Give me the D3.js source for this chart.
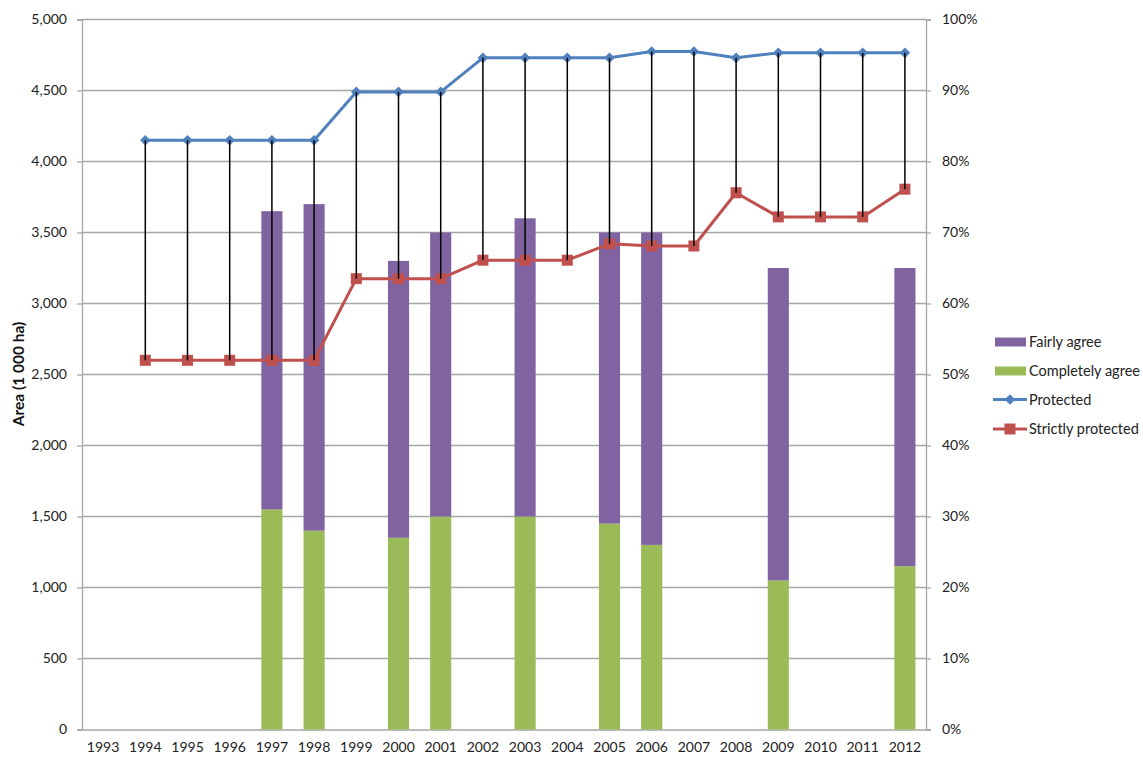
<!DOCTYPE html>
<html>
<head>
<meta charset="utf-8">
<script src="https://cdn.jsdelivr.net/npm/d3@7"></script>
<style>
  html, body { margin: 0; padding: 0; background: #fff; }
  svg { display: block; font-family: Lato, "Open Sans", sans-serif; }
</style>
</head>
<body>
<svg id="chart" width="1143" height="757"></svg>
<script>
// Years on the category axis
const years = ["1993","1994","1995","1996","1997","1998","1999","2000","2001","2002",
               "2003","2004","2005","2006","2007","2008","2009","2010","2011","2012"];

// Survey bars (1 000 ha scale), null where no survey
const completelyAgree = [null,null,null,null,1550,1400,null,1350,1500,null,
                         1500,null,1450,1300,null,null,1050,null,null,1150];
const fairlyAgree     = [null,null,null,null,2100,2300,null,1950,2000,null,
                         2100,null,2050,2200,null,null,2200,null,null,2100];

// Protected areas (1 000 ha)
const protectedArea = [null,4150,4150,4150,4150,4150,4490,4490,4490,4730,
                       4730,4730,4730,4775,4775,4730,4765,4765,4765,4765];
const strictlyProtected = [null,2600,2600,2600,2600,2600,3175,3175,3175,3305,
                           3305,3305,3420,3405,3405,3780,3610,3610,3610,3805];

const leftTicks = [0,500,1000,1500,2000,2500,3000,3500,4000,4500,5000];
const rightTicks = [0,0.1,0.2,0.3,0.4,0.5,0.6,0.7,0.8,0.9,1.0];

const colors = {
  fairly: "#8064A2",
  completely: "#9BBB59",
  protected: "#4F81BD",
  strict: "#C0504D",
  grid: "#a6a6a6"
};

const svg = d3.select("#chart");
const plot = { left: 82, right: 926, top: 19.5, bottom: 729.5 };

const x = d3.scaleBand().domain(years).range([plot.left, plot.right]).paddingInner(0).paddingOuter(0);
const y = d3.scaleLinear().domain([0, 5000]).range([plot.bottom, plot.top]);
const yR = d3.scaleLinear().domain([0, 1]).range([plot.bottom, plot.top]);
const cx = d => x(d) + x.bandwidth() / 2;
const barW = x.bandwidth() * 0.5;

// Horizontal gridlines
svg.append("g")
  .selectAll("line")
  .data(leftTicks.filter(t => t > 0))
  .join("line")
  .attr("x1", plot.left).attr("x2", plot.right)
  .attr("y1", d => y(d)).attr("y2", d => y(d))
  .attr("stroke", colors.grid).attr("stroke-width", 1.3);

// Left axis
const leftAxis = svg.append("g")
  .attr("transform", `translate(${plot.left},0)`)
  .call(d3.axisLeft(y).tickValues(leftTicks).tickFormat(d3.format(",")).tickSize(5).tickPadding(10));
leftAxis.select(".domain").attr("stroke", colors.grid).attr("stroke-width", 1.3);
leftAxis.selectAll(".tick line").attr("stroke", colors.grid).attr("stroke-width", 1.3);
leftAxis.selectAll(".tick text").attr("font-size", 14).attr("fill", "#222")
  .attr("font-family", "Lato, sans-serif");

// Right axis (percent)
const rightAxis = svg.append("g")
  .attr("transform", `translate(${plot.right},0)`)
  .call(d3.axisRight(yR).tickValues(rightTicks).tickFormat(d3.format(".0%")).tickSize(5).tickPadding(11));
rightAxis.select(".domain").attr("stroke", colors.grid).attr("stroke-width", 1.3);
rightAxis.selectAll(".tick line").attr("stroke", colors.grid).attr("stroke-width", 1.3);
rightAxis.selectAll(".tick text").attr("font-size", 14).attr("fill", "#222")
  .attr("font-family", "Lato, sans-serif");

// Bottom axis
const bottomAxis = svg.append("g")
  .attr("transform", `translate(0,${plot.bottom})`)
  .call(d3.axisBottom(x).tickSize(0).tickPadding(13));
bottomAxis.select(".domain").attr("stroke", colors.grid).attr("stroke-width", 1.3);
bottomAxis.selectAll(".tick text").attr("font-size", 14).attr("fill", "#222")
  .attr("font-family", "Lato, sans-serif");

// Stacked bars: completely agree at the bottom, fairly agree on top
const barData = years.map((yr, i) => ({ yr, c: completelyAgree[i], f: fairlyAgree[i] }))
  .filter(d => d.c != null);
const bars = svg.append("g");
bars.selectAll("rect.comp").data(barData).join("rect")
  .attr("class", "comp")
  .attr("x", d => cx(d.yr) - barW / 2).attr("width", barW)
  .attr("y", d => y(d.c)).attr("height", d => y(0) - y(d.c))
  .attr("fill", colors.completely);
bars.selectAll("rect.fair").data(barData).join("rect")
  .attr("class", "fair")
  .attr("x", d => cx(d.yr) - barW / 2).attr("width", barW)
  .attr("y", d => y(d.c + d.f)).attr("height", d => y(d.c) - y(d.c + d.f))
  .attr("fill", colors.fairly);

// Lines
const lineData = (arr) => years.map((yr, i) => ({ yr, v: arr[i] })).filter(d => d.v != null);
const line = d3.line().x(d => cx(d.yr)).y(d => y(d.v));

svg.append("path").datum(lineData(protectedArea))
  .attr("d", line).attr("fill", "none")
  .attr("stroke", colors.protected).attr("stroke-width", 3).attr("stroke-linejoin", "round");
svg.append("path").datum(lineData(strictlyProtected))
  .attr("d", line).attr("fill", "none")
  .attr("stroke", colors.strict).attr("stroke-width", 3).attr("stroke-linejoin", "round");

// Markers
const diamond = d3.symbol().type(d3.symbolDiamond2).size(72);
svg.append("g").selectAll("path").data(lineData(protectedArea)).join("path")
  .attr("transform", d => `translate(${cx(d.yr)},${y(d.v)})`)
  .attr("d", diamond).attr("fill", colors.protected);
svg.append("g").selectAll("rect").data(lineData(strictlyProtected)).join("rect")
  .attr("x", d => cx(d.yr) - 5.5).attr("y", d => y(d.v) - 5.5)
  .attr("width", 11).attr("height", 11).attr("fill", colors.strict);

// High-low drop lines between the two protected series
const pairs = years.map((yr, i) => ({ yr, hi: protectedArea[i], lo: strictlyProtected[i] }))
  .filter(d => d.hi != null && d.lo != null);
svg.append("g").selectAll("line").data(pairs).join("line")
  .attr("x1", d => cx(d.yr)).attr("x2", d => cx(d.yr))
  .attr("y1", d => y(d.hi)).attr("y2", d => y(d.lo))
  .attr("stroke", "#000").attr("stroke-width", 1.5);

// Y axis title
svg.append("text")
  .attr("transform", `translate(19,374) rotate(-90)`)
  .attr("text-anchor", "middle")
  .attr("dy", "0.35em")
  .attr("font-size", 15.5).attr("font-weight", "bold").attr("fill", "#111")
  .text("Area (1 000 ha)");

// Legend
const legend = svg.append("g");
const legendItems = [
  { label: "Fairly agree", type: "bar", color: colors.fairly, yPos: 342 },
  { label: "Completely agree", type: "bar", color: colors.completely, yPos: 371 },
  { label: "Protected", type: "diamond", color: colors.protected, yPos: 399.5 },
  { label: "Strictly protected", type: "square", color: colors.strict, yPos: 429 }
];
legendItems.forEach(it => {
  if (it.type === "bar") {
    legend.append("rect").attr("x", 995).attr("y", it.yPos - 4.5)
      .attr("width", 31).attr("height", 9).attr("fill", it.color);
  } else {
    legend.append("line").attr("x1", 993).attr("x2", 1027)
      .attr("y1", it.yPos).attr("y2", it.yPos)
      .attr("stroke", it.color).attr("stroke-width", 3);
    if (it.type === "diamond") {
      legend.append("path").attr("transform", `translate(1010,${it.yPos})`)
        .attr("d", diamond).attr("fill", it.color);
    } else {
      legend.append("rect").attr("x", 1004.5).attr("y", it.yPos - 5.5)
        .attr("width", 11).attr("height", 11).attr("fill", it.color);
    }
  }
  legend.append("text").attr("x", 1029).attr("y", it.yPos)
    .attr("dy", "0.35em").attr("font-size", 14.5).attr("fill", "#222")
    .text(it.label);
});
</script>
</body>
</html>
